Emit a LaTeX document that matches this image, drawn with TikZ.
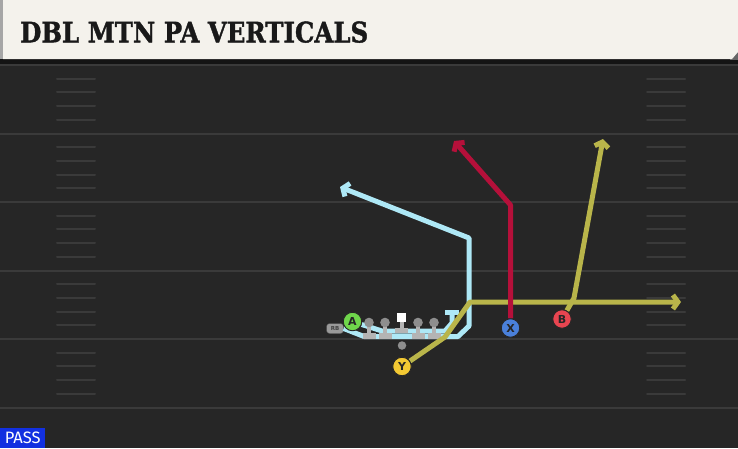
\documentclass[tikz,border=0pt]{standalone}
\usepackage{fontspec}
\usetikzlibrary{arrows.meta}
\newfontfamily\titlefont[FakeBold=1.5]{DejaVu Serif}
\newfontfamily\labfont{DejaVu Sans}
\newfontfamily\passfont{Fira Sans}
\definecolor{field}{HTML}{262626}
\definecolor{yard}{HTML}{3A3A3A}
\definecolor{cream}{HTML}{F4F2EC}
\definecolor{routeblue}{HTML}{AEE8F6}
\definecolor{routered}{HTML}{B5103A}
\definecolor{routeolive}{HTML}{B9B54A}
\definecolor{pgreen}{HTML}{6FD64B}
\definecolor{pblue}{HTML}{4A80DA}
\definecolor{pred}{HTML}{E84550}
\definecolor{pyellow}{HTML}{F3C933}
\definecolor{passblue}{HTML}{1230E0}
\definecolor{olhead}{HTML}{8E8E8E}
\definecolor{olbase}{HTML}{B4B4B4}
\tikzset{
  player/.style={circle, draw=black!85, line width=0.9pt, minimum size=18.5pt, inner sep=0pt,
    font=\labfont\bfseries\fontsize{11}{11}\selectfont, text=black!85},
  route/.style={line width=5pt, line join=round, -{Straight Barb[length=5pt,width=14pt]}},
  blockroute/.style={line width=5pt, line join=round, -{Bar[width=14pt]}},
  yardline/.style={draw=yard, line width=2pt},
  hashmark/.style={draw=yard, line width=2pt, line cap=round},
}
\begin{document}
\begin{tikzpicture}[x=1pt,y=-1pt]
\useasboundingbox (0,0) rectangle (738,448);
% field
\fill[field] (0,0) rectangle (738,448);
\foreach \k in {0,...,4}{
  \pgfmathsetmacro{\yy}{65+68.5*\k}
  \draw[yardline] (0,\yy) -- (738,\yy);
  \foreach \j in {1,...,4}{
    \pgfmathsetmacro{\hy}{\yy+13.7*\j}
    \draw[hashmark] (57,\hy) -- (95,\hy);
    \draw[hashmark] (647,\hy) -- (685,\hy);
  }
}
\draw[yardline] (0,407.5) -- (738,407.5);
% title bar
\fill[black!92] (0,58) rectangle (738,64);
\fill[black!60] (730,50) rectangle (738,60);
\fill[cream] (3,0) -- (738,0) -- (738,52) -- (732,59) -- (3,59) -- cycle;
\fill[black!35] (0,0) rectangle (3,59);
\node[anchor=south west, inner sep=0pt, text=black!90] (title) at (20,43)
  {\resizebox{348pt}{21pt}{\titlefont\bfseries DBL MTN PA VERTICALS}};
% players (positions)
\node[draw=black!70, fill=black!40, rounded corners=3pt, minimum width=17pt, minimum height=10pt,
  inner sep=0pt, font=\labfont\bfseries\fontsize{5.5}{5.5}\selectfont, text=black!75] (RB) at (335,328.5) {RB};
\node[player, fill=pgreen] (A) at (352.5,321.5) {A};
\node[player, fill=pyellow] (Y) at (402,366.5) {Y};
\node[player, fill=pblue] (X) at (510.5,328) {X};
\node[player, fill=pred] (B) at (562,319) {B};
\node[circle, fill=olhead, minimum size=8.5pt, inner sep=0pt] (QB) at (402,345.5) {};
% blue routes (behind line)
\coordinate (rb1) at (364,336.5);
\coordinate (rb2) at (458,336.5);
\coordinate (rb3) at (469,326);
\coordinate (rb4) at (469,238);
\coordinate (rb5) at (340,187);
\draw[route, routeblue] (RB.east) -- (rb1) -- (rb2) -- (rb3) -- (rb4) -- (rb5);
\coordinate (a1) at (382,331);
\coordinate (a2) at (445,331);
\coordinate (a3) at (452,323);
\coordinate (a4) at (452,310);
\draw[blockroute, routeblue] (A) -- (a1) -- (a2) -- (a3) -- (a4);
% offensive line
\foreach \x in {369,385,418,434}{
  \fill[olbase] (\x-2,325) rectangle (\x+2,334);
  \fill[olbase] (\x-6.5,333) rectangle (\x+6.5,338.5);
  \fill[olhead] (\x,322.5) circle (4.8pt);
}
\fill[olbase] (399.5,321) rectangle (403.5,329);
\fill[olbase] (395,328) rectangle (408,333);
\fill[white] (396.5,312.5) rectangle (406,322);
% yellow and red routes
\coordinate (y1) at (445,337);
\coordinate (y2) at (470,302);
\coordinate (y3) at (681,302);
\draw[route, routeolive] (Y) -- (y1) -- (y2) -- (y3);
\coordinate (b1) at (574,298);
\coordinate (b2) at (603,139);
\draw[route, routeolive] (B) -- (b1) -- (b2);
\coordinate (x1) at (510.5,205);
\coordinate (x2) at (454,141);
\draw[route, routered] (X) -- (x1) -- (x2);
% redraw players on top
\node[player, fill=pgreen] at (A) {A};
\node[player, fill=pyellow] at (Y) {Y};
\node[player, fill=pblue] at (X) {X};
\node[player, fill=pred] at (B) {B};
% PASS label
\node[fill=passblue, anchor=south west, minimum width=45pt, minimum height=20pt, inner sep=0pt,
  text=white, font=\passfont\fontsize{16.5}{16.5}\selectfont] (pass) at (0,448) {PASS};
\end{tikzpicture}
\end{document}
